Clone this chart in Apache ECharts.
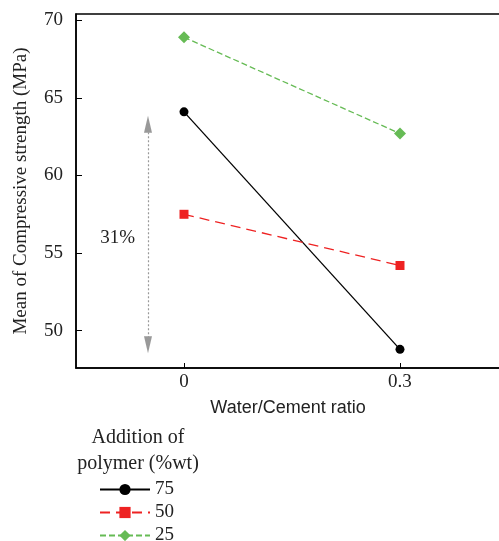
<!DOCTYPE html>
<html>
<head>
<meta charset="utf-8">
<script src="https://cdn.jsdelivr.net/npm/echarts@6/dist/echarts.min.js"></script>
<style>
  html, body { margin: 0; padding: 0; background: #fff; }
  #chart { width: 499px; height: 541px; }
</style>
</head>
<body>
<div id="chart"></div>
<script>
// water/cement ratios on the x axis
const ratios = [0, 0.3];
// mean compressive strength (MPa) per polymer addition
const s75 = [64.1, 48.8];
const s50 = [57.5, 54.2];
const s25 = [68.9, 62.7];
const seriesNames = ["75", "50", "25"];
const yTicks = [50, 55, 60, 65, 70];
const xTicks = [0, 0.3];
// the 31% drop arrow (x position, top, bottom)
const arrowX = -0.05;
const arrowSpan = [63.3, 49.1];
const dropLabel = "31%";

const serif = "'Liberation Serif', 'DejaVu Serif', serif";
const sans = "'Liberation Sans', Arial, sans-serif";

const pairs = (ys) => ratios.map((x, i) => [x, ys[i]]);

const chart = echarts.init(document.getElementById("chart"));
const option = {
    animation: false,
    grid: {
        left: 76,
        top: 14,
        right: -1,
        bottom: 173,
        show: true,
        borderColor: "#000",
        borderWidth: 1.5,
        containLabel: false,
        outerBoundsMode: "none",
    },
    title: {
        text: "Addition of\npolymer (%wt)",
        left: 133,
        top: 420,
        textAlign: "center",
        textStyle: {
            fontFamily: serif,
            fontSize: 20,
            fontWeight: "normal",
            color: "#222",
            lineHeight: 26,
        },
    },
    legend: {
        orient: "vertical",
        left: 94,
        top: 475,
        height: 70,
        itemWidth: 50,
        itemHeight: 14,
        itemGap: 4,
        data: seriesNames,
        textStyle: {
            fontFamily: serif,
            fontSize: 19,
            lineHeight: 19,
            color: "#222",
        },
    },
    xAxis: {
        type: "value",
        min: -0.15,
        max: 0.4389,
        name: "Water/Cement ratio",
        nameLocation: "middle",
        nameGap: 31,
        nameTextStyle: { fontFamily: sans, fontSize: 18, color: "#222" },
        axisLine: { show: true, onZero: false, lineStyle: { color: "#000", width: 1.5 } },
        axisTick: {
            show: true,
            inside: true,
            length: 5,
            customValues: xTicks,
            lineStyle: { color: "#000" },
        },
        axisLabel: {
            customValues: xTicks,
            fontFamily: serif,
            fontSize: 19,
            color: "#222",
            margin: 5,
            formatter: (v) => String(v),
        },
        splitLine: { show: false },
    },
    yAxis: {
        type: "value",
        min: 47.6,
        max: 70.4,
        name: "Mean of Compressive strength (MPa)",
        nameLocation: "middle",
        nameGap: 45,
        nameTextStyle: { fontFamily: serif, fontSize: 19, color: "#222" },
        axisLine: { show: true, onZero: false, lineStyle: { color: "#000", width: 1.5 } },
        axisTick: {
            show: true,
            inside: true,
            length: 6,
            customValues: yTicks,
            lineStyle: { color: "#000" },
        },
        axisLabel: {
            customValues: yTicks,
            fontFamily: serif,
            fontSize: 19,
            color: "#222",
            margin: 13,
        },
        splitLine: { show: false },
    },
    series: [
        {
            name: seriesNames[0],
            type: "line",
            data: pairs(s75),
            symbol: "circle",
            symbolSize: 9,
            itemStyle: { color: "#000" },
            lineStyle: { color: "#000", width: 1.3 },
            markLine: {
                silent: true,
                symbol: ["triangle", "triangle"],
                symbolSize: [8, 17],
                lineStyle: { color: "#999", type: [2, 2], width: 1.2 },
                itemStyle: { color: "#999" },
                label: { show: false },
                data: [[
                    { coord: [arrowX, arrowSpan[0]] },
                    { coord: [arrowX, arrowSpan[1]] },
                ]],
            },
        },
        {
            name: seriesNames[1],
            type: "line",
            data: pairs(s50),
            symbol: "rect",
            symbolSize: 9,
            itemStyle: { color: "#ee2222" },
            lineStyle: { color: "#ee2222", width: 1.3, type: [10, 6] },
        },
        {
            name: seriesNames[2],
            type: "line",
            data: pairs(s25),
            symbol: "diamond",
            symbolSize: 12,
            itemStyle: { color: "#66bb55" },
            lineStyle: { color: "#66bb55", width: 1.3, type: [6, 3] },
        },
    ],
};
chart.setOption(option);

// place the percentage label next to the arrow
const labelPos = chart.convertToPixel({ gridIndex: 0 }, [-0.092, 56.0]);
chart.setOption({
    graphic: [{
        type: "text",
        x: labelPos[0],
        y: labelPos[1],
        style: {
            text: dropLabel,
            fontFamily: serif,
            fontSize: 19,
            fill: "#222",
            align: "center",
            verticalAlign: "middle",
        },
    }],
});
</script>
</body>
</html>
